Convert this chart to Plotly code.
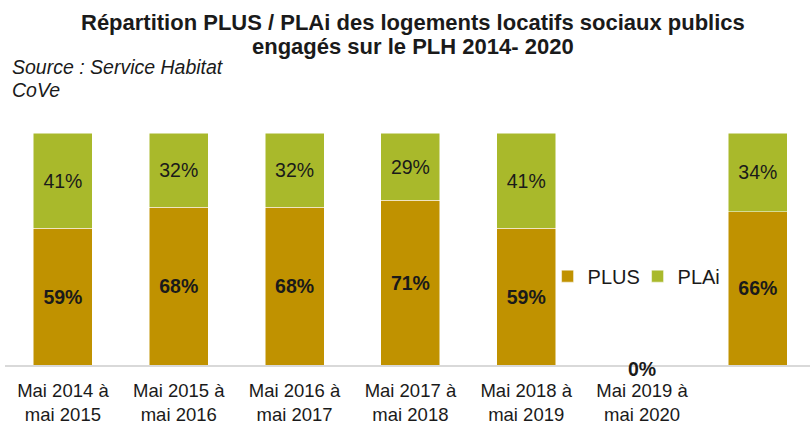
import plotly.graph_objects as go

categories = ["Mai 2014 à<br>mai 2015", "Mai 2015 à<br>mai 2016", "Mai 2016 à<br>mai 2017",
              "Mai 2017 à<br>mai 2018", "Mai 2018 à<br>mai 2019", "Mai 2019 à<br>mai 2020", ""]
plus_values = [59, 68, 68, 71, 59, 0, 66]
plai_values = [41, 32, 32, 29, 41, 0, 34]
title_lines = ["Répartition PLUS / PLAi des logements locatifs sociaux publics",
               "engagés sur le PLH 2014- 2020"]
source_lines = ["Source : Service Habitat", "CoVe"]

FONT = "Liberation Sans, Arial, sans-serif"
C_PLUS = "#C09200"
C_PLAI = "#A9B92B"
TXT = "#1a1a1a"

xs = list(range(len(categories)))

fig = go.Figure()
fig.add_trace(go.Bar(
    x=xs, y=plus_values, name="PLUS", marker=dict(color=C_PLUS, line=dict(color="white", width=0.5)),
    width=0.51,
    text=[f"<b>{v}%</b>" if v > 0 else "" for v in plus_values],
    textposition="inside", insidetextanchor="middle",
    textfont=dict(family=FONT, size=19.5, color=TXT), constraintext="none",
    hoverinfo="skip",
))
fig.add_trace(go.Bar(
    x=xs, y=plai_values, name="PLAi", marker=dict(color=C_PLAI, line=dict(color="white", width=0.5)),
    width=0.51,
    text=[f"{v}%" if v > 0 else "" for v in plai_values],
    textposition="inside", insidetextanchor="middle",
    textfont=dict(family=FONT, size=19.5, color=TXT), constraintext="none",
    hoverinfo="skip",
))

# zero-value label
for x, v, w in zip(xs, plus_values, plai_values):
    if v + w == 0:
        fig.add_annotation(x=x, y=0, xref="x", yref="y", text="<b>0%</b>", showarrow=False,
                           yanchor="middle", yshift=-4, font=dict(family=FONT, size=19.5, color=TXT))

# title lines
for yy, line in zip([1.478, 1.375], title_lines):
    fig.add_annotation(xref="paper", yref="paper", x=0.507, y=yy, xanchor="center", yanchor="middle",
                       showarrow=False, text=f"<b>{line}</b>",
                       font=dict(family=FONT, size=22, color=TXT))

# source lines
for yy, line in zip([1.284, 1.185], source_lines):
    fig.add_annotation(xref="paper", yref="paper", x=0.0062, y=yy, xanchor="left", yanchor="middle",
                       showarrow=False, text=f"<i>{line}</i>",
                       font=dict(family=FONT, size=19.5, color=TXT))

fig.update_layout(
    width=810, height=425,
    margin=dict(l=5, r=0, t=133, b=60, autoexpand=False),
    paper_bgcolor="white", plot_bgcolor="white",
    barmode="stack",
    showlegend=True,
    legend=dict(orientation="h", x=0.674, y=0.383, xanchor="left", yanchor="middle",
                font=dict(family=FONT, size=20, color=TXT), bgcolor="rgba(0,0,0,0)",
                traceorder="normal", entrywidth=45, itemwidth=30),
    xaxis=dict(range=[-0.5, 6.45], tickmode="array", tickvals=xs, ticktext=categories,
               showgrid=False, zeroline=False, showline=True, linecolor="#D9D9D9", linewidth=2,
               ticks="", ticklabelstandoff=8,
               tickfont=dict(family=FONT, size=18.5, color=TXT), fixedrange=True),
    yaxis=dict(range=[0, 100], visible=False, showgrid=False, zeroline=False, fixedrange=True),
)

fig.write_html("out.html", config={"displayModeBar": False},
               post_script="document.body.style.margin='0';")
